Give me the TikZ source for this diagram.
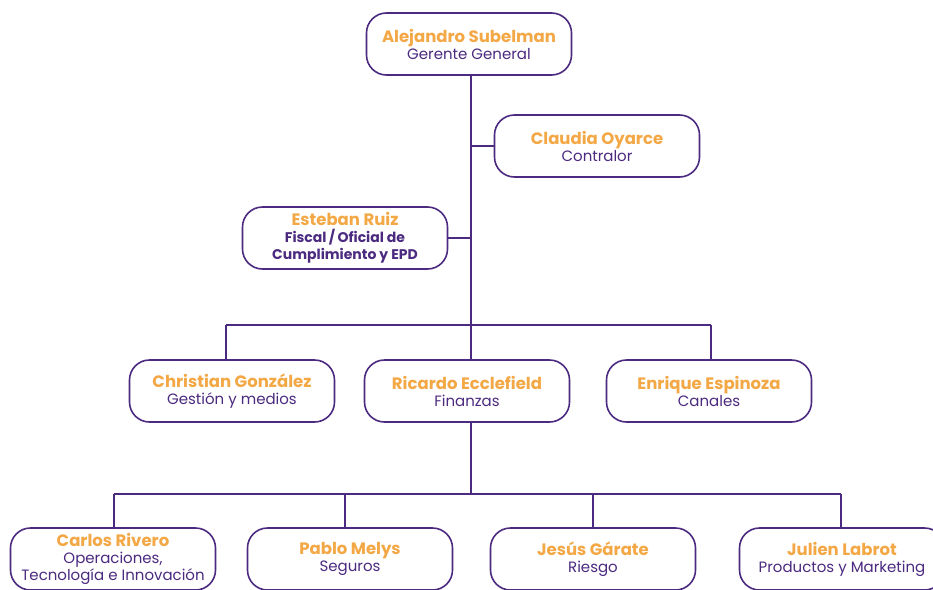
\documentclass[tikz,border=0pt]{standalone}
\usepackage{fontspec}
\setmainfont{Poppins}
\usepackage{tikz}
\usetikzlibrary{positioning}

\definecolor{orgpurple}{HTML}{4B2A80}
\definecolor{orgorange}{HTML}{F3A845}

\newcommand{\persona}[2]{{\color{orgorange}\fontsize{16.5}{16.5}\selectfont\bfseries #1}\\ #2}

\begin{document}
\begin{tikzpicture}[x=1pt,y=-1pt,
        cargo/.style={draw=orgpurple, line width=1.6pt, rounded corners=20pt, fill=white,
            minimum width=205pt, minimum height=62pt, align=center, text=orgpurple,
            font=\fontsize{15}{17}\selectfont, inner sep=2pt},
        enlace/.style={draw=orgpurple, line width=1.5pt}]
    \useasboundingbox (0,0) rectangle (933,589);
    \clip (0,0) rectangle (933,589);
    % puntos de las lineas
    \coordinate (t1) at (471,325);
    \coordinate (t2) at (471,494);
    \coordinate (a1) at (226,325);
    \coordinate (a3) at (711,325);
    \coordinate (b1) at (114,494);
    \coordinate (b2) at (345,494);
    \coordinate (b3) at (593,494);
    \coordinate (b4) at (841,494);
    \draw [enlace] (a1) -- (a3);
    \draw [enlace] (b1) -- (b4);
    % nivel 1
    \node [cargo] (gerente) at (469,44) {\persona{Alejandro Subelman}{Gerente General}};
    \node [cargo] (contralor) at (597,146) {\persona{Claudia Oyarce}{Contralor}};
    \node [cargo] (fiscal) at (345,238) {\persona{Esteban Ruiz}{\bfseries\fontsize{14}{15.5}\selectfont Fiscal\,/\,Oficial de\\ \bfseries\fontsize{14}{15.5}\selectfont Cumplimiento y EPD}};
    % nivel 2
    \node [cargo] (gestion) at (232,391) {\persona{Christian González}{Gestión y medios}};
    \node [cargo] (finanzas) at (467,391) {\persona{Ricardo Ecclefield}{Finanzas}};
    \node [cargo] (canales) at (709,391) {\persona{Enrique Espinoza}{Canales}};
    % nivel 3
    \node [cargo] (operaciones) at (113,559) {\persona{Carlos Rivero}{\fontsize{15}{16}\selectfont Operaciones,\\ Tecnología e Innovación}};
    \node [cargo] (seguros) at (350,559) {\persona{Pablo Melys}{Seguros}};
    \node [cargo] (riesgo) at (593,559) {\persona{Jesús Gárate}{Riesgo}};
    \node [cargo] (productos) at (842,559) {\persona{Julien Labrot}{Productos y Marketing}};
    % conectores
    \draw [enlace] (gerente.south -| t1) -- (t1);
    \draw [enlace] (t1 |- contralor.west) -- (contralor.west);
    \draw [enlace] (fiscal.east) -- (t1 |- fiscal.east);
    \draw [enlace] (a1) -- (a1 |- gestion.north);
    \draw [enlace] (t1) -- (t1 |- finanzas.north);
    \draw [enlace] (a3) -- (a3 |- canales.north);
    \draw [enlace] (finanzas.south -| t2) -- (t2);
    \draw [enlace] (b1) -- (b1 |- operaciones.north);
    \draw [enlace] (b2) -- (b2 |- seguros.north);
    \draw [enlace] (b3) -- (b3 |- riesgo.north);
    \draw [enlace] (b4) -- (b4 |- productos.north);
\end{tikzpicture}
\end{document}
